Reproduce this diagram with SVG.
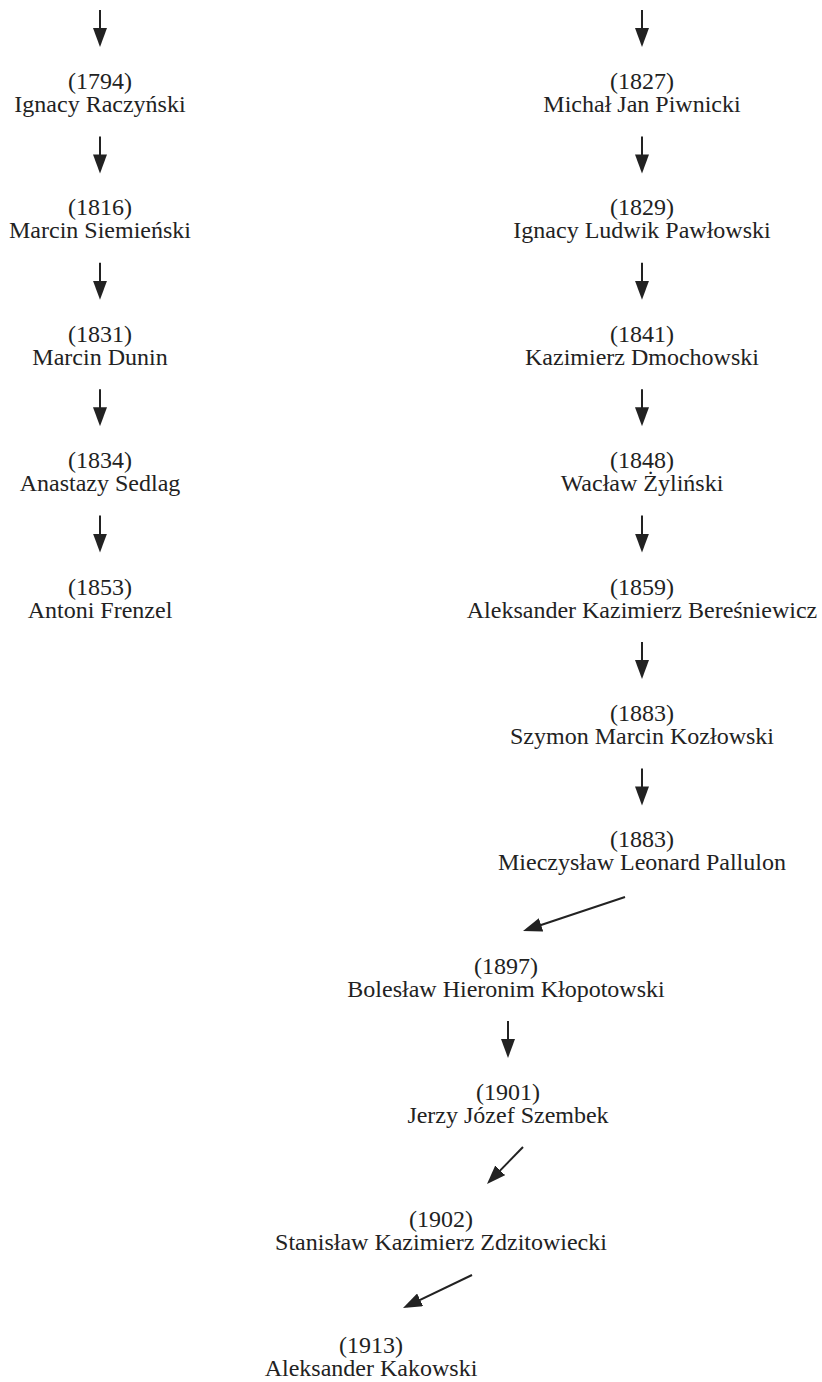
<svg xmlns="http://www.w3.org/2000/svg" width="822" height="1382" viewBox="0 0 822 1382">
<style>
.t text{font-family:'Liberation Serif','Times New Roman',Tinos,'DejaVu Serif',serif;font-size:24px;fill:#222;text-anchor:middle}
.c line{stroke:#222;stroke-width:2;marker-end:url(#ah)}
</style>
<defs>
<marker id="ah" markerUnits="userSpaceOnUse" markerWidth="20" markerHeight="14" viewBox="0 0 20 14" refX="15" refY="7" orient="auto">
<path d="M0,0 L19,7 L0,14 z" fill="#222"/>
</marker>
</defs>
<rect width="822" height="1382" fill="#fff"/>
<g class="c" id="connectors">
<line x1="100" y1="10" x2="100" y2="43"/>
<line x1="100" y1="136.4" x2="100" y2="169.4"/>
<line x1="100" y1="262.8" x2="100" y2="295.8"/>
<line x1="100" y1="389.2" x2="100" y2="422.2"/>
<line x1="100" y1="515.6" x2="100" y2="548.6"/>
<line x1="642" y1="10" x2="642" y2="43"/>
<line x1="642" y1="136.4" x2="642" y2="169.4"/>
<line x1="642" y1="262.8" x2="642" y2="295.8"/>
<line x1="642" y1="389.2" x2="642" y2="422.2"/>
<line x1="642" y1="515.6" x2="642" y2="548.6"/>
<line x1="642" y1="642" x2="642" y2="675"/>
<line x1="642" y1="768.4" x2="642" y2="801.4"/>
<line x1="625" y1="897" x2="526.8" y2="929.7"/>
<line x1="508" y1="1021" x2="508" y2="1054"/>
<line x1="523" y1="1147" x2="489.8" y2="1181.1"/>
<line x1="472" y1="1275" x2="406.6" y2="1306.3"/>
</g>
<g class="t" font-family="Liberation Serif, serif">
<g id="n1794"><text x="100" y="89">(1794)</text><text x="100" y="112">Ignacy Raczyński</text></g>
<g id="n1816"><text x="100" y="215.4">(1816)</text><text x="100" y="238.4">Marcin Siemieński</text></g>
<g id="n1831"><text x="100" y="341.8">(1831)</text><text x="100" y="364.8">Marcin Dunin</text></g>
<g id="n1834"><text x="100" y="468.2">(1834)</text><text x="100" y="491.2">Anastazy Sedlag</text></g>
<g id="n1853"><text x="100" y="594.6">(1853)</text><text x="100" y="617.6">Antoni Frenzel</text></g>
<g id="n1827"><text x="642" y="89">(1827)</text><text x="642" y="112">Michał Jan Piwnicki</text></g>
<g id="n1829"><text x="642" y="215.4">(1829)</text><text x="642" y="238.4">Ignacy Ludwik Pawłowski</text></g>
<g id="n1841"><text x="642" y="341.8">(1841)</text><text x="642" y="364.8">Kazimierz Dmochowski</text></g>
<g id="n1848"><text x="642" y="468.2">(1848)</text><text x="642" y="491.2">Wacław Żyliński</text></g>
<g id="n1859"><text x="642" y="594.6">(1859)</text><text x="642" y="617.6">Aleksander Kazimierz Bereśniewicz</text></g>
<g id="n1883a"><text x="642" y="721">(1883)</text><text x="642" y="744">Szymon Marcin Kozłowski</text></g>
<g id="n1883b"><text x="642" y="847.4">(1883)</text><text x="642" y="870.4">Mieczysław Leonard Pallulon</text></g>
<g id="n1897"><text x="506" y="973.8">(1897)</text><text x="506" y="996.8">Bolesław Hieronim Kłopotowski</text></g>
<g id="n1901"><text x="508" y="1100.2">(1901)</text><text x="508" y="1123.2">Jerzy Józef Szembek</text></g>
<g id="n1902"><text x="441" y="1226.6">(1902)</text><text x="441" y="1249.6">Stanisław Kazimierz Zdzitowiecki</text></g>
<g id="n1913"><text x="371" y="1353">(1913)</text><text x="371" y="1376">Aleksander Kakowski</text></g>
</g>
</svg>
